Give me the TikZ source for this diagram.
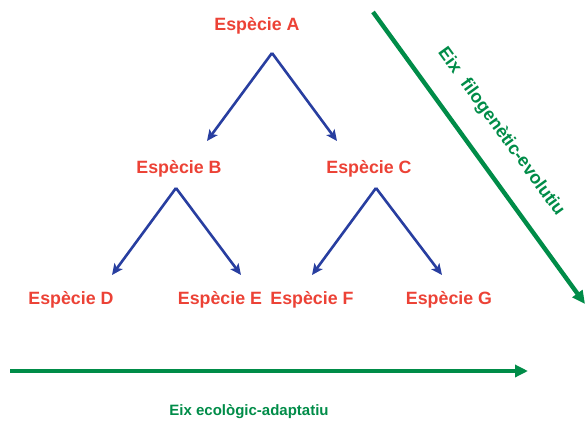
\documentclass[tikz,border=0pt]{standalone}
\usepackage{fontspec}
\setmainfont{Liberation Sans}
\usetikzlibrary{arrows.meta}
\definecolor{sppred}{RGB}{236,66,54}
\definecolor{treeblue}{RGB}{40,62,160}
\definecolor{axisgreen}{RGB}{0,140,72}
\tikzset{
  species/.style={text=sppred, font=\fontsize{17.8}{20}\selectfont\bfseries, inner sep=0pt},
  axislabel/.style={text=axisgreen, font=\fontsize{#1}{20}\selectfont\bfseries, inner sep=0pt},
  branch/.style={draw=treeblue, line width=2.6pt, -{Stealth[length=11pt,width=10pt,inset=2.5pt]}},
  axis/.style={draw=axisgreen, line width=4.4pt, -{Triangle[length=13pt,width=12pt]}}
}
\begin{document}
\begin{tikzpicture}[x=1pt,y=-1pt]
  \useasboundingbox (0,0) rectangle (586,421);

  % species labels
  \node[species] (A) at (257,26)  {Espècie A};
  \node[species] (B) at (179,169) {Espècie B};
  \node[species] (C) at (369,169) {Espècie C};
  \node[species] (D) at (71,300)  {Espècie D};
  \node[species] (E) at (220,300) {Espècie E};
  \node[species] (F) at (312,300) {Espècie F};
  \node[species] (G) at (449,300) {Espècie G};

  % branch points and arrow ends
  \coordinate (a0) at (272,53);
  \coordinate (aB) at (207,141);
  \coordinate (aC) at (337,141);
  \coordinate (b0) at (176,188);
  \coordinate (bD) at (112,275);
  \coordinate (bE) at (241,275);
  \coordinate (c0) at (376,188);
  \coordinate (cF) at (312,275);
  \coordinate (cG) at (442,275);

  \draw[branch] (a0) -- (aB);
  \draw[branch] (a0) -- (aC);
  \draw[branch] (b0) -- (bD);
  \draw[branch] (b0) -- (bE);
  \draw[branch] (c0) -- (cF);
  \draw[branch] (c0) -- (cG);

  % ecological-adaptive axis
  \coordinate (h0) at (10,371);
  \coordinate (h1) at (528,371);
  \draw[axis] (h0) -- (h1);
  \node[axislabel=15] (hl) at (249,412) {Eix ecològic-adaptatiu};

  % phylogenetic-evolutionary axis
  \coordinate (d0) at (373,12);
  \coordinate (d1) at (585,304);
  \draw[axis] (d0) -- (d1);
  \node[axislabel=18, rotate=-54] (dl) at (501,132) {Eix\hspace{0.6em}filogenètic-evolutiu};
\end{tikzpicture}
\end{document}
